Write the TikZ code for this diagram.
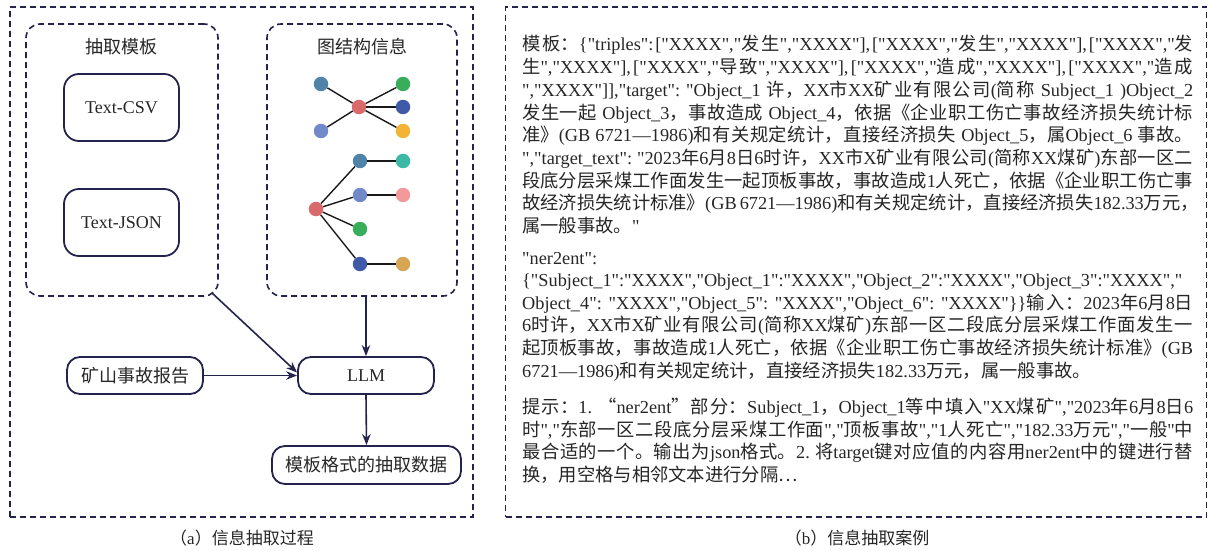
\documentclass[tikz,border=0pt]{standalone}
\usepackage{fontspec}
\setmainfont{Liberation Serif}
\newfontfamily\cjkfont{Noto Sans CJK SC}
\newfontfamily\latinfont{Liberation Serif}
\usetikzlibrary{arrows.meta,calc}
\chardef\cjkclass=13
\makeatletter
\count@="4E00
\loop\XeTeXcharclass\count@=\cjkclass\ifnum\count@<"9FFF\advance\count@\@ne\repeat
\count@="3000
\loop\XeTeXcharclass\count@=\cjkclass\ifnum\count@<"303F\advance\count@\@ne\repeat
\count@="FF00
\loop\XeTeXcharclass\count@=\cjkclass\ifnum\count@<"FFEF\advance\count@\@ne\repeat
\makeatother
\XeTeXcharclass"201C=\cjkclass
\XeTeXcharclass"201D=\cjkclass
\XeTeXcharclass"2026=\cjkclass
\XeTeXcharclass"22EF=\cjkclass
\XeTeXinterchartoks 0 \cjkclass = {\cjkfont}
\XeTeXinterchartoks 4095 \cjkclass = {\cjkfont}
\XeTeXinterchartoks \cjkclass 0 = {\latinfont}
\XeTeXinterchartoks \cjkclass 4095 = {\latinfont}
\XeTeXinterchartokenstate=1
\definecolor{navy}{HTML}{23234D}
\definecolor{txt}{HTML}{262626}
\definecolor{dred}{HTML}{D9696B}
\definecolor{dsteel}{HTML}{5083A8}
\definecolor{dperi}{HTML}{7189C8}
\definecolor{dgreen}{HTML}{38AE5A}
\definecolor{dblue}{HTML}{3F5BA8}
\definecolor{dyellow}{HTML}{F5B335}
\definecolor{dteal}{HTML}{3CB9A5}
\definecolor{dpink}{HTML}{F4999A}
\definecolor{dtan}{HTML}{D7A653}
\newcommand\rtfont{\latinfont\fontsize{18.3}{22.7}\selectfont\hyphenpenalty=10000\relax\exhyphenpenalty=10000\relax\XeTeXlinebreaklocale "zh"\XeTeXlinebreakskip=0pt plus 2pt\relax\XeTeXlinebreakpenalty=10000\relax}
\tikzset{
  panel/.style={draw=navy, line width=1.6pt, dash pattern=on 6pt off 4pt, inner sep=0pt},
  innerpanel/.style={panel, rounded corners=14pt},
  tbox/.style={draw=navy, line width=1.8pt, rounded corners=13pt, text=txt, font=\latinfont\fontsize{18}{22}\selectfont, inner sep=0pt},
  ttl/.style={text=txt, font=\latinfont\fontsize{18}{22}\selectfont, inner sep=0pt},
  captxt/.style={text=txt, font=\latinfont\fontsize{17}{20}\selectfont, inner sep=0pt},
  dot/.style={circle, inner sep=0pt, minimum size=14.5pt},
  gedge/.style={line width=1.4pt, draw=black!90},
  arr/.style={draw=navy, line width=1.6pt, -{Stealth[length=11pt,width=8.5pt]}},
  para/.style={anchor=base west, text width=671pt, align=justify, inner sep=0pt, text=txt, font=\rtfont}
}
\begin{document}
\begin{tikzpicture}[x=1pt,y=-1pt]
\useasboundingbox (0,0) rectangle (1211,551);
% panel (a)
\node[panel, minimum width=463pt, minimum height=510pt] (pa) at (241.5,262) {};
\node[innerpanel, minimum width=192pt, minimum height=272pt] (tmpl) at (122,160) {};
\node[innerpanel, minimum width=190pt, minimum height=272pt] (gbox) at (362,160) {};
\node[ttl] (t1) at (121,47) {抽取模板};
\node[ttl] (t2) at (362,47) {图结构信息};
\node[tbox, rounded corners=15pt, minimum width=115pt, minimum height=67pt] (csv) at (121.5,107.5) {Text-CSV};
\node[tbox, rounded corners=15pt, minimum width=115pt, minimum height=67pt] (json) at (121.5,222.5) {Text-JSON};
% graph 1
\node[dot, fill=dred] (c1) at (359,107) {};
\node[dot, fill=dsteel] (l1) at (321,84) {};
\node[dot, fill=dperi] (l2) at (321,131) {};
\node[dot, fill=dgreen] (r1) at (403,84) {};
\node[dot, fill=dblue] (r2) at (403,107) {};
\node[dot, fill=dyellow] (r3) at (403,131) {};
\draw[gedge] (l1) -- (c1);
\draw[gedge] (l2) -- (c1);
\draw[gedge] (c1) -- (r1);
\draw[gedge] (c1) -- (r2);
\draw[gedge] (c1) -- (r3);
% graph 2
\node[dot, fill=dred] (rt) at (316,209) {};
\node[dot, fill=dsteel] (a1) at (360,161) {};
\node[dot, fill=dperi] (a2) at (360,195) {};
\node[dot, fill=dgreen] (a3) at (360,229) {};
\node[dot, fill=dblue] (a4) at (360,264) {};
\node[dot, fill=dteal] (b1) at (403,161) {};
\node[dot, fill=dpink] (b2) at (403,195) {};
\node[dot, fill=dtan] (b4) at (403,264) {};
\draw[gedge] (rt) -- (a1);
\draw[gedge] (rt) -- (a2);
\draw[gedge] (rt) -- (a3);
\draw[gedge] (rt) -- (a4);
\draw[gedge] (a1) -- (b1);
\draw[gedge] (a2) -- (b2);
\draw[gedge] (a4) -- (b4);
% flow
\node[tbox, minimum width=136pt, minimum height=37pt] (rep) at (135,375.5) {矿山事故报告};
\node[tbox, minimum width=136pt, minimum height=37pt] (llm) at (366,375.5) {LLM};
\node[tbox, minimum width=189pt, minimum height=38pt] (out) at (366.5,465) {模板格式的抽取数据};
\coordinate (tc) at (212,293);
\draw[arr] (tc) -- ([yshift=3pt]llm.west);
\draw[arr] (rep.east) -- (llm.west);
\draw[arr] (gbox.south -| llm.north) -- (llm.north);
\draw[arr] (llm.south) -- (out.north);
\node[captxt] (capa) at (242,538) {（a）信息抽取过程};
% panel (b)
\node[panel, minimum width=701pt, minimum height=510pt] (pb) at (856,262) {};
\node[para] (p1) at (522,51) {模板：\{"triples":["XXXX","发生","XXXX"],["XXXX","发生","XXXX"],["XXXX","发\linebreak
生","XXXX"],["XXXX","导致","XXXX"],["XXXX","造成","XXXX"],["XXXX","造成\linebreak
","XXXX"]],"target":~"Object\_1~许，XX市XX矿业有限公司(简称~Subject\_1~)Object\_2\linebreak
发生一起~Object\_3，事故造成~Object\_4，依据《企业职工伤亡事故经济损失统计标\linebreak
准》(GB~6721—1986)和有关规定统计，直接经济损失~Object\_5，属Object\_6~事故。\linebreak
","target\_text":~"2023年6月8日6时许，XX市X矿业有限公司(简称XX煤矿)东部一区二\linebreak
段底分层采煤工作面发生一起顶板事故，事故造成1人死亡，依据《企业职工伤亡事\linebreak
故经济损失统计标准》(GB~6721—1986)和有关规定统计，直接经济损失182.33万元，\linebreak
属一般事故。"};
\node[para] (p2) at (522,264) {"ner2ent":};
\node[para] (p3) at (522,286.5) {\{"Subject\_1":"XXXX","Object\_1":"XXXX","Object\_2":"XXXX","Object\_3":"XXXX","\linebreak
Object\_4":~"XXXX","Object\_5":~"XXXX","Object\_6":~"XXXX"\}\}输入：2023年6月8日\linebreak
6时许，XX市X矿业有限公司(简称XX煤矿)东部一区二段底分层采煤工作面发生一\linebreak
起顶板事故，事故造成1人死亡，依据《企业职工伤亡事故经济损失统计标准》(GB\linebreak
6721—1986)和有关规定统计，直接经济损失182.33万元，属一般事故。};
\node[para] (p4) at (522,413.5) {提示：1.~“ner2ent”部分：Subject\_1，Object\_1等中填入"XX煤矿","2023年6月8日6\linebreak
时","东部一区二段底分层采煤工作面","顶板事故","1人死亡","182.33万元","一般"中\linebreak
最合适的一个。输出为json格式。2.~将target键对应值的内容用ner2ent中的键进行替\linebreak
换，用空格与相邻文本进行分隔⋯};
\node[captxt] (capb) at (857,538) {（b）信息抽取案例};
\end{tikzpicture}
\end{document}
